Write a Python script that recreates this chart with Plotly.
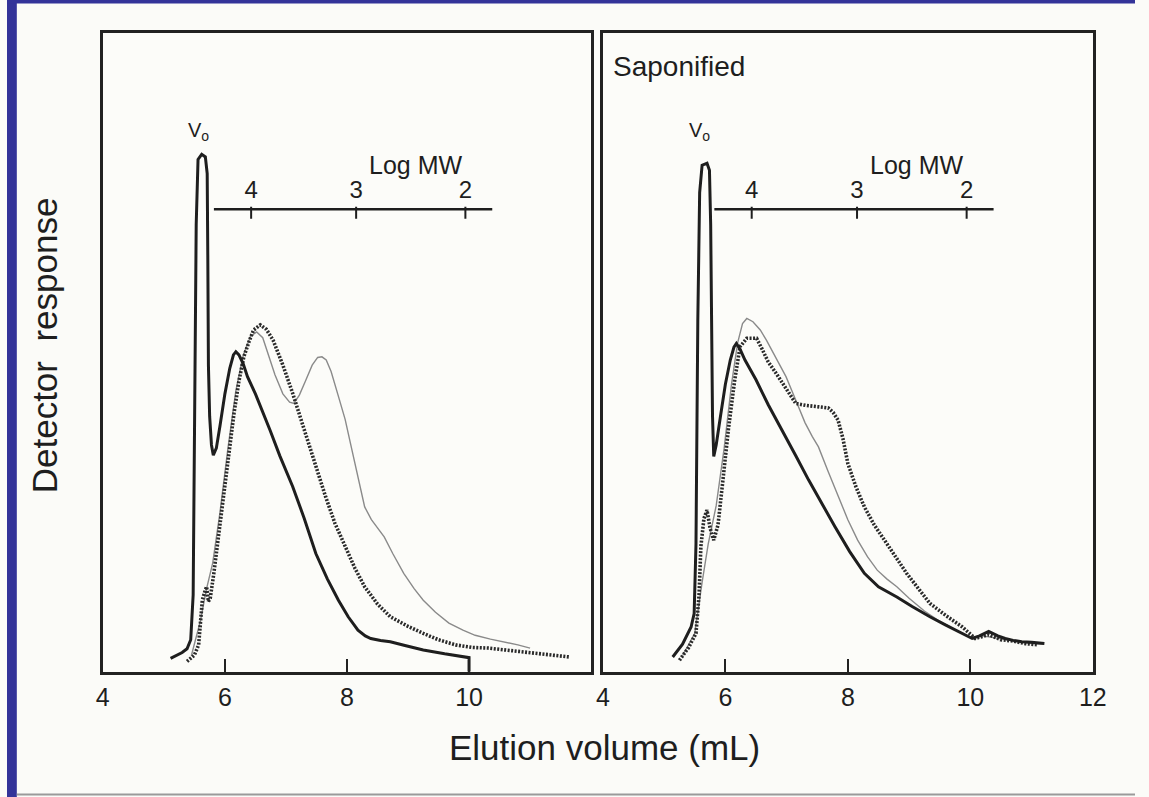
import plotly.graph_objects as go

# ---------------- data ----------------
# Left panel (untreated)
ls_x = [5.11, 5.30, 5.38, 5.44, 5.48, 5.51, 5.53, 5.56, 5.62, 5.68, 5.71, 5.72, 5.73, 5.75, 5.78, 5.81, 5.86, 5.92,
        6.00, 6.08, 6.14, 6.18, 6.23, 6.30, 6.37, 6.50, 6.62, 6.74, 6.90, 7.11, 7.30, 7.49, 7.68, 7.86, 8.02, 8.18,
        8.30, 8.39, 8.55, 8.71, 8.95, 9.25, 9.60, 9.94, 10.0, 10.0]
ls_y = [2.1, 3.0, 3.6, 5, 12, 40, 70, 80.2, 81.0, 80.6, 78, 65, 48, 40, 35.5, 33.9, 35, 38.5,
        43.5, 47.5, 49.6, 50.1, 49.6, 48.2, 46.2, 43.5, 40.7, 37.8, 33.8, 29.0, 24.0, 18.5, 14.5, 11.2, 8.6, 6.5,
        5.6, 5.2, 4.9, 4.7, 4.1, 3.4, 2.8, 2.3, 2.2, 0]

ld_x = [5.38, 5.50, 5.57, 5.60, 5.63, 5.67, 5.70, 5.73, 5.76, 5.82, 5.94, 6.05, 6.15, 6.23, 6.31, 6.40, 6.47, 6.58,
        6.68, 6.79, 6.95, 7.11, 7.25, 7.38, 7.52, 7.65, 7.80, 7.97, 8.13, 8.29, 8.50, 8.71, 9.0, 9.25, 9.50, 9.78,
        10.05, 10.31, 10.6, 10.9, 11.2, 11.45, 11.65]
ld_y = [1.6, 2.6, 4.2, 8, 11.2, 12.5, 13.3, 11.0, 11.5, 15.5, 24.8, 33.5, 40.5, 45.5, 49.3, 51.8, 53.5, 54.3,
        53.6, 51.9, 48.0, 43.6, 39.4, 35.2, 31.2, 27.4, 23.3, 19.6, 16.2, 13.3, 10.6, 8.6, 7.1, 6.0, 5.0, 4.2,
        3.8, 3.7, 3.4, 3.0, 2.7, 2.5, 2.3]

lt_x = [5.45, 5.60, 5.70, 5.80, 5.92, 6.05, 6.18, 6.30, 6.42, 6.52, 6.62, 6.72, 6.82, 6.95, 7.06, 7.13, 7.22, 7.32,
        7.43, 7.52, 7.59, 7.66, 7.74, 7.86, 7.97, 8.07, 8.18, 8.29, 8.40, 8.50, 8.61, 8.75, 8.93, 9.10, 9.25, 9.45,
        9.67, 9.90, 10.10, 10.35, 10.58, 10.80, 11.0]
lt_y = [2.5, 8, 13, 17, 25, 35, 44, 49.5, 52.5, 53.2, 52.3, 49.5, 46.5, 43.5, 42.2, 42.0, 43.3, 45.5,
        48.0, 49.2, 49.3, 48.8, 47.0, 43.1, 39.5, 35.2, 30.5, 25.8, 23.8, 22.6, 21.1, 18.5, 15.4, 13.0, 11.2, 9.3,
        7.6, 6.5, 5.7, 5.1, 4.7, 4.2, 3.7]

# Right panel (saponified)
rs_x = [5.14, 5.30, 5.44, 5.49, 5.52, 5.55, 5.58, 5.62, 5.70, 5.74, 5.76, 5.77, 5.79, 5.81, 5.85, 5.92, 6.00, 6.08,
        6.14, 6.18, 6.24, 6.32, 6.50, 6.70, 6.93, 7.15, 7.36, 7.58, 7.79, 8.03, 8.27, 8.50, 8.80, 9.05, 9.34, 9.60,
        9.87, 10.03, 10.15, 10.30, 10.45, 10.57, 10.70, 10.84, 11.0, 11.21]
rs_y = [2.3, 4.3, 7.0, 9.1, 20, 55, 75, 79.3, 79.6, 78.5, 70, 55, 40, 33.7, 35.5, 40, 45, 48.8,
        50.8, 51.4, 50.5, 48.8, 45.7, 41.8, 37.8, 33.8, 30.0, 26.2, 22.7, 18.8, 15.4, 13.3, 11.7, 10.2, 8.6, 7.3,
        6.0, 5.2, 5.6, 6.3, 5.6, 5.2, 4.9, 4.7, 4.6, 4.4]

rd_x = [5.25, 5.40, 5.52, 5.57, 5.60, 5.65, 5.70, 5.75, 5.81, 5.88, 5.96, 6.05, 6.15, 6.24, 6.35, 6.51, 6.60, 6.70,
        6.83, 7.00, 7.15, 7.31, 7.50, 7.68, 7.76, 7.84, 7.92, 8.00, 8.13, 8.27, 8.43, 8.59, 8.78, 8.96, 9.15, 9.34,
        9.60, 9.87, 10.08, 10.30, 10.50, 10.70, 10.90, 11.10]
rd_y = [1.8, 3.8, 6.0, 12, 19.6, 24, 25.3, 22.5, 20.6, 23, 30, 38, 45.5, 50.9, 52.2, 52.2, 50.5, 48.5,
        46.7, 44.2, 42.0, 41.7, 41.5, 41.3, 40.6, 39.4, 36.5, 32.6, 29.0, 25.8, 23.0, 20.6, 18.0, 15.4, 13.0, 10.7,
        8.8, 7.0, 5.2, 5.8, 5.0, 4.8, 4.4, 4.2]

rt_x = [5.30, 5.50, 5.62, 5.72, 5.85, 5.98, 6.10, 6.20, 6.28, 6.35, 6.45, 6.57, 6.67, 6.83, 6.99, 7.15, 7.30, 7.42,
        7.52, 7.68, 7.84, 8.00, 8.16, 8.32, 8.48, 8.64, 8.80, 9.00, 9.25, 9.50, 9.75, 10.0, 10.2, 10.4, 10.6, 10.8,
        11.0, 11.2]
rt_y = [2.5, 6, 14, 20, 26, 35, 45, 51.5, 54.5, 55.3, 54.8, 53.5, 51.9, 49.0, 46.2, 42.5, 39.0, 36.8,
        35.2, 31.3, 27.4, 23.8, 20.6, 18.0, 15.9, 14.5, 13.3, 11.5, 9.5, 7.9, 6.6, 5.4, 5.6, 5.3, 4.9, 4.7,
        4.4, 4.3]

# Log MW calibration scale (elution volume position of each log MW value)
logmw_labels = ["4", "3", "2"]
logmw_pos = [6.43, 8.15, 9.94]
logmw_line_x = [5.82, 10.38]
logmw_level = 72.4

x_ticks_left = [4, 6, 8, 10]
x_ticks_right = [4, 6, 8, 10, 12]

# ---------------- figure ----------------
W, H = 1149, 797
FONT = "Liberation Sans, Arial, Helvetica, sans-serif"
INK = "#1e1e1e"

fig = go.Figure()

def add_panel(xa, ya, sx, sy, dx, dy, tx, ty):
    fig.add_trace(go.Scatter(x=tx, y=ty, mode="lines", xaxis=xa, yaxis=ya,
                             line=dict(color="#8a8a8a", width=1.4), hoverinfo="skip"))
    fig.add_trace(go.Scatter(x=dx, y=dy, mode="lines", xaxis=xa, yaxis=ya,
                             line=dict(color="#2a2a2a", width=3.6, dash="2px,1.5px"), hoverinfo="skip"))
    fig.add_trace(go.Scatter(x=sx, y=sy, mode="lines", xaxis=xa, yaxis=ya,
                             line=dict(color=INK, width=3.0), hoverinfo="skip"))
    # Log MW scale line
    fig.add_trace(go.Scatter(x=logmw_line_x, y=[logmw_level, logmw_level], mode="lines",
                             xaxis=xa, yaxis=ya, line=dict(color=INK, width=2.4), hoverinfo="skip"))
    tick_x, tick_y = [], []
    for p in logmw_pos:
        tick_x += [p, p, None]
        tick_y += [logmw_level + 0.4, logmw_level - 1.5, None]
    fig.add_trace(go.Scatter(x=tick_x, y=tick_y, mode="lines", xaxis=xa, yaxis=ya,
                             line=dict(color=INK, width=2.0), hoverinfo="skip"))
    fig.add_trace(go.Scatter(x=logmw_pos, y=[logmw_level + 0.8] * 3, mode="text",
                             text=logmw_labels, textposition="top center",
                             textfont=dict(family=FONT, size=24, color=INK),
                             xaxis=xa, yaxis=ya, hoverinfo="skip"))

add_panel("x", "y", ls_x, ls_y, ld_x, ld_y, lt_x, lt_y)
add_panel("x2", "y2", rs_x, rs_y, rd_x, rd_y, rt_x, rt_y)

axis_common = dict(range=[4, 12], showgrid=False, zeroline=False, showline=True, mirror=True,
                   linecolor="#222222", linewidth=2.6, ticks="inside", ticklen=13, tickwidth=2,
                   tickcolor="#222222", tickfont=dict(family=FONT, size=25, color=INK),
                   ticklabelstandoff=1)
yaxis_common = dict(range=[0, 100], showgrid=False, zeroline=False, showline=True, mirror=True,
                    linecolor="#222222", linewidth=2.6, showticklabels=False, ticks="")

fig.update_layout(
    width=W, height=H,
    margin=dict(l=0, r=0, t=0, b=0),
    paper_bgcolor="#fbfbf8", plot_bgcolor="#fcfcf9",
    showlegend=False,
    xaxis=dict(domain=[97.6 / W, 595 / W], tickvals=x_ticks_left, anchor="y", **axis_common),
    xaxis2=dict(domain=[607 / W, 1106 / W], tickvals=x_ticks_right, anchor="y2", **axis_common),
    yaxis=dict(domain=[1 - 671.7 / H, 1 - 33 / H], anchor="x", **yaxis_common),
    yaxis2=dict(domain=[1 - 671.7 / H, 1 - 33 / H], anchor="x2", **yaxis_common),
)

ann_font = dict(family=FONT, color=INK)
C = dict(xanchor="center", yanchor="middle", showarrow=False)
annotations = [
    dict(text="Log MW", x=9.13, y=79.3, xref="x", yref="y", font=dict(size=25, **ann_font), **C),
    dict(text="Log MW", x=9.12, y=79.3, xref="x2", yref="y2", font=dict(size=25, **ann_font), **C),
    dict(text="V<sub>o</sub>", x=5.57, y=84.6, xref="x", yref="y", font=dict(size=20, **ann_font), **C),
    dict(text="V<sub>o</sub>", x=5.58, y=84.6, xref="x2", yref="y2", font=dict(size=20, **ann_font), **C),
    dict(text="Saponified", x=4.14, y=94.7, xref="x2", yref="y2", xanchor="left", yanchor="middle",
         showarrow=False, font=dict(size=28, **ann_font)),
    dict(text="Elution volume (mL)", x=609 / W, y=1 - 747 / H, xref="paper", yref="paper",
         font=dict(size=35, **ann_font), **C),
    dict(text="Detector  response", x=38 / W, y=1 - 345 / H, xref="paper", yref="paper",
         textangle=-90, font=dict(size=35, **ann_font), **C),
]
fig.update_layout(annotations=annotations)

# scan frame: blue strips and bottom rule
fig.update_layout(shapes=[
    dict(type="rect", xref="paper", yref="paper", x0=0, x1=10 / W, y0=0, y1=1,
         fillcolor="#333399", line=dict(width=0), layer="above"),
    dict(type="rect", xref="paper", yref="paper", x0=0, x1=1, y0=1 - 3.5 / H, y1=1,
         fillcolor="#333399", line=dict(width=0), layer="above"),
    dict(type="line", xref="paper", yref="paper", x0=10 / W, x1=1, y0=2.5 / H, y1=2.5 / H,
         line=dict(color="#9a9a9a", width=2), layer="above"),
])

fig.write_html(
    "out.html",
    config={"displayModeBar": False},
    post_script="document.body.style.margin='0';document.body.style.padding='0';"
                "document.body.style.overflow='hidden';document.body.style.background='#fbfbf8';",
)
